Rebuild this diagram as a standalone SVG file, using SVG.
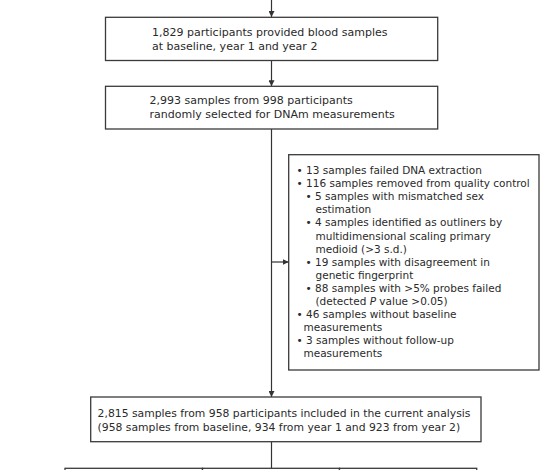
<svg xmlns="http://www.w3.org/2000/svg" width="543" height="470" viewBox="0 0 543 470">
<style>
  .box { fill: #ffffff; stroke: #3a3a3a; stroke-width: 1.3; }
  .conn { fill: none; stroke: #333333; stroke-width: 1.2; }
  text { font-family: "DejaVu Sans", "Liberation Sans", sans-serif; font-size: 11px; fill: #2a2a2a; }
  .side { font-size: 10.5px; }
  .wide { font-size: 10.8px; }
  .it { font-style: italic; }
</style>
<defs>
  <marker id="arr" markerUnits="userSpaceOnUse" markerWidth="6" markerHeight="6" refX="6" refY="3" orient="auto">
    <path d="M0,0 L6,3 L0,6 z" fill="#333333"/>
  </marker>
</defs>
<rect width="543" height="470" fill="#ffffff"/>

<g id="connectors">
  <line class="conn" x1="271.5" y1="0" x2="271.5" y2="17" marker-end="url(#arr)"/>
  <line class="conn" x1="271.5" y1="60.5" x2="271.5" y2="86.3" marker-end="url(#arr)"/>
  <line class="conn" x1="271.5" y1="129" x2="271.5" y2="397" marker-end="url(#arr)"/>
  <line class="conn" x1="271.5" y1="262" x2="288.7" y2="262" marker-end="url(#arr)"/>
  <line class="conn" x1="271.5" y1="441.7" x2="271.5" y2="468.3"/>
</g>

<g id="node-blood">
  <rect class="box" x="105.5" y="17.3" width="332.2" height="43.2"/>
  <text x="152" y="36">1,829 participants provided blood samples</text>
  <text x="152" y="50">at baseline, year 1 and year 2</text>
</g>

<g id="node-selected">
  <rect class="box" x="105.5" y="86.3" width="332.2" height="42.7"/>
  <text x="149.5" y="104">2,993 samples from 998 participants</text>
  <text x="149.5" y="118">randomly selected for DNAm measurements</text>
</g>

<g id="node-excluded" class="side">
  <rect class="box" x="288.7" y="154.7" width="250.3" height="215.3"/>
  <text class="side" x="296.5" y="174">• 13 samples failed DNA extraction</text>
  <text class="side" x="296.5" y="187.1">• 116 samples removed from quality control</text>
  <text class="side" x="305.5" y="200.2">• 5 samples with mismatched sex</text>
  <text class="side" x="315.5" y="213.3">estimation</text>
  <text class="side" x="305.5" y="226.4">• 4 samples identified as outliners by</text>
  <text class="side" x="315.5" y="239.5">multidimensional scaling primary</text>
  <text class="side" x="315.5" y="252.6">medioid (&gt;3 s.d.)</text>
  <text class="side" x="305.5" y="265.7">• 19 samples with disagreement in</text>
  <text class="side" x="315.5" y="278.8">genetic fingerprint</text>
  <text class="side" x="305.5" y="291.9">• 88 samples with &gt;5% probes failed</text>
  <text class="side" x="315.5" y="305">(detected <tspan class="it">P</tspan> value &gt;0.05)</text>
  <text class="side" x="296.5" y="318.1">• 46 samples without baseline</text>
  <text class="side" x="303.5" y="331.2">measurements</text>
  <text class="side" x="296.5" y="344.3">• 3 samples without follow-up</text>
  <text class="side" x="303.5" y="357.4">measurements</text>
</g>

<g id="node-included">
  <rect class="box" x="90.7" y="397" width="390.3" height="44.7"/>
  <text class="wide" x="97.6" y="416.5">2,815 samples from 958 participants included in the current analysis</text>
  <text class="wide" x="97.6" y="430.5">(958 samples from baseline, 934 from year 1 and 923 from year 2)</text>
</g>

<g id="node-bottom-1">
  <rect class="box" x="65" y="468.3" width="137.5" height="20"/>
</g>
<g id="node-bottom-2">
  <rect class="box" x="202.5" y="468.3" width="137" height="20"/>
</g>
<g id="node-bottom-3">
  <rect class="box" x="339.5" y="468.3" width="137.2" height="20"/>
</g>
</svg>
